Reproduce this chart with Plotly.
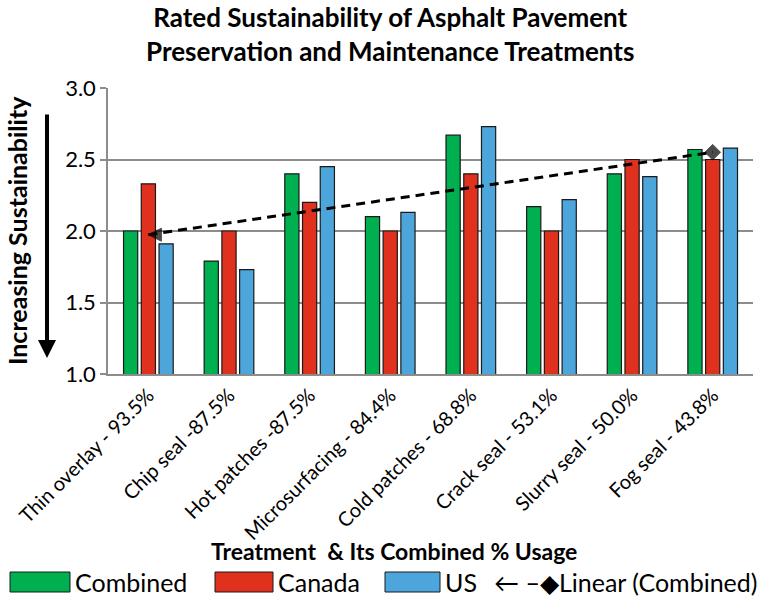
import numpy as np
import plotly.graph_objects as go

# Treatments with their combined % usage
categories = [
    "Thin overlay - 93.5%",
    "Chip seal -87.5%",
    "Hot patches -87.5%",
    "Microsurfacing - 84.4%",
    "Cold patches - 68.8%",
    "Crack seal - 53.1%",
    "Slurry seal - 50.0%",
    "Fog seal - 43.8%",
]

# Rated sustainability scores (1 = most sustainable)
combined = [2.00, 1.79, 2.40, 2.10, 2.67, 2.17, 2.40, 2.57]
canada = [2.33, 2.00, 2.20, 2.00, 2.40, 2.00, 2.50, 2.50]
us = [1.91, 1.73, 2.45, 2.13, 2.73, 2.22, 2.38, 2.58]

series_names = ["Combined", "Canada", "US"]
trend_name = "Linear (Combined)"
y_ticks = [1.0, 1.5, 2.0, 2.5, 3.0]

colors = ["#00B050", "#E0301E", "#4DA6DB"]
FONT = "Lato"

# plot-area geometry in pixels, used to place paper-referenced extras
L, R, T, B = 108, 11, 88, 231
PW, PH = 764 - L - R, 605 - T - B


def px_x(x):
    return (x - L) / PW


def px_y(y):
    return (605 - B - y) / PH


fig = go.Figure()
for name, vals, col in zip(series_names, [combined, canada, us], colors):
    fig.add_trace(go.Bar(
        x=categories, y=vals, name=name,
        marker=dict(color=col, line=dict(color="#1a1a1a", width=1.2)),
        showlegend=False,
    ))

# Least-squares trend of the combined ratings across treatments
idx = np.arange(len(categories))
slope, intercept = np.polyfit(idx, combined, 1)
trend_y = [intercept + slope * idx[0], intercept + slope * idx[-1]]
fig.add_trace(go.Scatter(
    x=[categories[0], categories[-1]], y=trend_y, mode="lines+markers",
    line=dict(color="black", width=3, dash="9px,6px"),
    marker=dict(symbol=["arrow-left", "diamond"], size=[13, 12], color="black",
                line=dict(color="black", width=1)),
    showlegend=False,
))

fig.update_layout(
    width=764, height=605,
    margin=dict(l=L, r=R, t=T, b=B),
    paper_bgcolor="white", plot_bgcolor="white",
    barmode="group", bargap=0.34, bargroupgap=0.2,
    font=dict(family=FONT, color="black"),
    xaxis=dict(
        tickangle=-45, tickfont=dict(size=20, color="black"),
        showline=True, linecolor="#8c8c8c", linewidth=1.5,
        ticks="", showgrid=False,
    ),
    yaxis=dict(
        range=[1.0, 3.0], tickvals=y_ticks, ticktext=[f"{v:.1f}" for v in y_ticks],
        tickfont=dict(size=22, color="black"),
        showgrid=True, gridcolor="#8c8c8c", gridwidth=1.5,
        showline=True, linecolor="#8c8c8c", linewidth=1.5,
        ticks="outside", ticklen=6, tickcolor="#8c8c8c", tickwidth=1.5,
        zeroline=False,
    ),
)

# Chart title
fig.add_annotation(
    text="<b>Rated Sustainability of Asphalt Pavement<br>Preservation and Maintenance Treatments</b>",
    xref="paper", yref="paper", x=px_x(390), y=px_y(34), xanchor="center", yanchor="middle",
    showarrow=False, font=dict(family=FONT, size=26, color="black"),
)

# Vertical axis caption with its downward arrow
fig.add_annotation(
    text="<b>Increasing Sustainability</b>", textangle=-90,
    xref="paper", yref="paper", x=px_x(17), y=px_y(230), xanchor="center", yanchor="middle",
    showarrow=False, font=dict(family=FONT, size=25, color="black"),
)
fig.add_annotation(
    xref="paper", yref="paper", x=px_x(47), y=px_y(358),
    ax=0, ay=-245, axref="pixel", ayref="pixel",
    showarrow=True, arrowhead=2, arrowsize=0.9, arrowwidth=4, arrowcolor="black", text="",
)

# Horizontal axis caption
fig.add_annotation(
    text="<b>Treatment  & Its Combined % Usage</b>",
    xref="paper", yref="paper", x=px_x(394), y=px_y(551), xanchor="center", yanchor="middle",
    showarrow=False, font=dict(family=FONT, size=23, color="black"),
)

# Legend row beneath the chart
leg_c = 582
entries = [(10, 70, 73), (215, 273, 276), (385, 440, 443)]
for (x0, x1, tx), name, col in zip(entries, series_names, colors):
    fig.add_shape(type="rect", xref="paper", yref="paper",
                  x0=px_x(x0), x1=px_x(x1), y0=px_y(leg_c + 10), y1=px_y(leg_c - 10),
                  fillcolor=col, line=dict(color="#1a1a1a", width=1))
    fig.add_annotation(text=name, xref="paper", yref="paper",
                       x=px_x(tx), y=px_y(leg_c), xanchor="left", yanchor="middle",
                       showarrow=False, font=dict(family=FONT, size=25, color="black"))
fig.add_annotation(text="\u2190 \u2013\u25C6" + trend_name, xref="paper", yref="paper",
                   x=px_x(492), y=px_y(leg_c), xanchor="left", yanchor="middle",
                   showarrow=False, font=dict(family=FONT, size=25, color="black"))

fig.write_html("out.html")
